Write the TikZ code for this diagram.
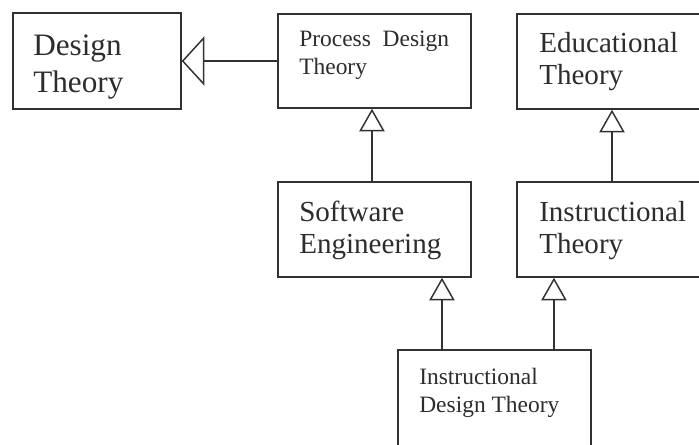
\documentclass[tikz,border=0pt]{standalone}
\usepackage{fontspec}
\setmainfont{Liberation Serif}
\usetikzlibrary{arrows.meta}

\definecolor{lineGray}{RGB}{50,50,50}
\definecolor{textGray}{RGB}{45,45,45}

\tikzset{
	box/.style={draw=lineGray, line width=1.1pt, inner sep=0pt},
	genArrow/.style={draw=lineGray, line width=1.1pt, -{Triangle[open, length=17pt, width=19pt]}},
	genArrowWide/.style={draw=lineGray, line width=1.1pt, -{Triangle[open, length=17pt, width=37pt]}},
	bigText/.style={font=\fontsize{23.4}{27.75}\selectfont, text=textGray, align=left, anchor=base west, inner sep=0pt},
	midText/.style={font=\fontsize{21.8}{24}\selectfont, text=textGray, align=left, anchor=base west, inner sep=0pt},
	smallText/.style={font=\fontsize{17.6}{21}\selectfont, text=textGray, align=left, anchor=base west, inner sep=0pt}}

\begin{document}
\begin{tikzpicture}[x=0.75pt,y=0.75pt,yscale=-1,xscale=1]
	\path[use as bounding box] (0,0) rectangle (699,444);

	%Shape: Rectangle [Design Theory]
	\node[box, minimum width=0.75*168pt, minimum height=0.75*96pt] (dt) at (97,61) {};
	%Shape: Rectangle [Process Design Theory]
	\node[box, minimum width=0.75*193pt, minimum height=0.75*94pt] (pdt) at (374.5,61) {};
	%Shape: Rectangle [Educational Theory]
	\node[box, minimum width=0.75*190pt, minimum height=0.75*95pt] (edu) at (612,61.5) {};
	%Shape: Rectangle [Software Engineering]
	\node[box, minimum width=0.75*193pt, minimum height=0.75*95pt] (se) at (374.5,229.5) {};
	%Shape: Rectangle [Instructional Theory]
	\node[box, minimum width=0.75*190pt, minimum height=0.75*95pt] (it) at (612,229.5) {};
	%Shape: Rectangle [Instructional Design Theory]
	\node[box, minimum width=0.75*193pt, minimum height=0.75*110pt] (idt) at (494.5,405) {};

	% Text Node
	\node[bigText] (dtLabel) at (33,92) {Design\\Theory};
	% Text Node
	\node[smallText] (pdtLabel) at (299,74) {Process~~Design\\Theory};
	% Text Node
	\node[midText] (eduLabel) at (539,84) {Educational\\Theory};
	% Text Node
	\node[midText] (seLabel) at (299,253) {Software\\Engineering};
	% Text Node
	\node[midText] (itLabel) at (539,253) {Instructional\\Theory};
	% Text Node
	\node[smallText] (idtLabel) at (419,412) {Instructional\\Design Theory};

	%Generalization arrows
	\draw[genArrowWide] (pdt.west) -- (dt.east);
	\coordinate (seTop) at ([xshift=-1.9pt]se.north);
	\draw[genArrow] (seTop) -- (seTop |- pdt.south);
	\draw[genArrow] (it.north) -- (edu.south);
	\coordinate (idtLeft) at ([xshift=-39.4pt]idt.north);
	\coordinate (idtRight) at ([xshift=44.6pt]idt.north);
	\draw[genArrow] (idtLeft) -- (idtLeft |- se.south);
	\draw[genArrow] (idtRight) -- (idtRight |- it.south);

\end{tikzpicture}
\end{document}
